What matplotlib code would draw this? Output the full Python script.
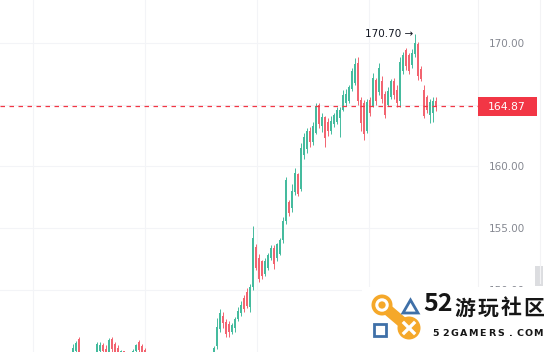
import numpy as np
import matplotlib.pyplot as plt
from matplotlib.patches import Rectangle, Circle, Polygon
from matplotlib.transforms import blended_transform_factory

## candle data (one candle per bar)
opens = [144.0, 145.0, 146.0, 144.8, 144.0, 144.4, 143.8, 144.3, 144.8, 145.0,
         145.5, 145.2, 144.9, 146.0, 145.6, 145.3, 144.6, 145.0, 144.5, 144.2,
         144.6, 145.0, 145.8, 145.4, 145.1, 144.6, 144.0, 143.5, 143.8, 143.2,
         142.8, 143.3, 142.9, 142.4, 142.7, 142.2, 142.6, 143.0, 142.7, 143.2,
         143.6, 143.3, 143.8, 144.2, 143.9, 144.4, 144.7, 144.5, 145.4, 146.8,
         147.9, 147.4, 147.2, 146.6, 146.9, 147.6, 148.1, 149.3, 149.8, 148.6,
         150.2, 153.5, 152.6, 152.3, 151.3, 151.8, 152.6, 153.4, 152.6, 152.9,
         154.0, 155.6, 157.1, 156.6, 157.9, 159.4, 158.2, 160.9, 161.4, 162.9,
         162.0, 162.7, 165.0, 163.3, 164.0, 163.6, 162.9, 163.4, 163.6, 163.9,
         164.6, 165.1, 165.3, 166.3, 166.8, 168.4, 165.4, 165.1, 162.9, 165.4,
         164.8, 167.0, 166.0, 166.9, 165.9, 165.0, 165.6, 166.9, 166.2, 165.3,
         167.7, 169.4, 169.0, 168.2, 169.1, 169.9, 167.9, 166.2, 165.6, 164.2,
         164.3, 165.3]
highs = [145.6, 145.85, 146.2, 144.9, 144.8, 144.6, 144.7, 144.9, 145.8, 145.75,
         145.7, 145.5, 146.1, 146.2, 145.8, 145.5, 145.1, 145.0, 144.7, 144.8,
         145.2, 145.6, 145.9, 145.6, 145.3, 144.7, 144.2, 144.1, 143.9, 143.4,
         143.5, 143.6, 143.1, 143.0, 142.9, 142.8, 143.2, 143.3, 143.4, 143.8,
         143.9, 144.0, 144.4, 144.5, 144.6, 144.9, 144.9, 145.4, 147.7, 148.4,
         148.2, 147.6, 147.5, 147.3, 147.8, 148.6, 149.1, 149.6, 150.1, 150.5,
         155.2, 153.7, 152.9, 152.4, 152.6, 153.0, 153.6, 153.6, 153.8, 154.2,
         155.9, 159.1, 157.3, 158.6, 159.9, 159.5, 161.9, 162.7, 163.1, 163.2,
         163.6, 165.1, 165.1, 164.3, 164.1, 163.9, 164.1, 164.3, 164.8, 164.8,
         166.2, 166.3, 166.6, 168.0, 168.8, 168.9, 165.6, 165.4, 165.5, 165.6,
         167.6, 167.2, 168.4, 167.3, 166.1, 166.4, 167.1, 167.2, 166.6, 168.9,
         169.3, 169.6, 169.2, 169.5, 170.7, 170.1, 168.1, 166.6, 165.8, 165.5,
         165.6, 165.6]
lows = [143.5, 144.3, 144.2, 143.6, 143.7, 143.4, 143.5, 144.0, 144.5, 144.6,
        144.7, 144.5, 144.7, 144.9, 144.6, 144.4, 144.2, 144.1, 143.9, 143.9,
        144.3, 144.7, 144.8, 144.6, 144.3, 143.7, 143.2, 143.1, 142.9, 142.5,
        142.6, 142.6, 142.1, 142.2, 141.9, 141.9, 142.3, 142.4, 142.5, 142.9,
        143.0, 143.1, 143.5, 143.6, 143.7, 144.1, 144.2, 144.3, 145.2, 146.6,
        146.9, 146.2, 146.2, 146.4, 146.6, 147.5, 147.9, 148.2, 148.5, 148.2,
        150.0, 151.6, 150.6, 150.9, 151.1, 151.6, 152.4, 151.7, 152.3, 152.8,
        153.8, 155.3, 156.0, 156.3, 157.7, 157.6, 158.0, 160.6, 161.1, 161.6,
        161.7, 162.6, 163.1, 162.8, 161.6, 162.5, 162.6, 163.2, 163.4, 162.4,
        164.5, 164.9, 165.1, 166.1, 166.6, 165.0, 162.9, 162.1, 162.7, 164.1,
        164.8, 165.0, 165.8, 165.1, 163.9, 164.9, 165.5, 165.5, 164.8, 164.8,
        167.5, 167.8, 167.5, 168.0, 168.9, 167.0, 166.9, 163.9, 164.3, 163.5,
        163.6, 164.5]
closes = [145.3, 145.7, 144.8, 144.0, 144.4, 143.8, 144.3, 144.8, 145.6, 145.5,
          145.0, 144.8, 145.9, 145.2, 144.9, 144.7, 145.0, 144.5, 144.2, 144.6,
          145.0, 145.5, 145.1, 144.9, 144.6, 144.0, 143.5, 143.8, 143.2, 142.8,
          143.3, 142.9, 142.4, 142.7, 142.2, 142.6, 143.0, 142.7, 143.2, 143.6,
          143.3, 143.8, 144.2, 143.9, 144.4, 144.7, 144.5, 145.3, 147.0, 148.1,
          147.3, 146.4, 146.6, 147.1, 147.6, 148.3, 148.8, 148.4, 148.7, 150.2,
          154.2, 151.8, 150.9, 151.1, 152.3, 152.8, 153.4, 152.1, 153.7, 154.0,
          155.6, 158.9, 156.2, 158.0, 159.5, 157.8, 161.5, 162.4, 162.9, 162.0,
          163.3, 164.9, 163.4, 164.0, 162.3, 162.9, 163.7, 164.2, 164.6, 164.6,
          165.8, 165.9, 166.4, 167.7, 168.3, 165.3, 163.5, 162.6, 165.2, 164.3,
          167.2, 165.3, 168.0, 165.5, 164.2, 166.1, 166.9, 165.8, 165.1, 168.5,
          169.0, 168.1, 167.7, 169.2, 170.0, 167.3, 167.1, 164.1, 164.6, 165.2,
          165.3, 164.87]

lastPrice = closes[-1]
priceTicks = [150, 155, 160, 165, 170]

upColor = '#45bb9e'
downColor = '#f26470'

fig = plt.figure(figsize=(5.48, 3.52), dpi=100)
ax = fig.add_axes([0, 0, 478 / 548, 1])

## drawing the candles
x = np.arange(len(closes))
o = np.array(opens)
c = np.array(closes)
colors = [upColor if cc >= oo else downColor for oo, cc in zip(o, c)]
ax.vlines(x, lows, highs, color=colors, linewidth=0.7, zorder=3)
ax.bar(x, np.maximum(np.abs(c - o), 0.05), bottom=np.minimum(o, c), width=0.6,
       color=colors, linewidth=0, zorder=3)

## axes limits and grid
ax.set_xlim(-24.33, 135)
ax.set_ylim(144.95, 173.49)
ax.set_xticks([-13.33, 24, 61.33, 98.67])
ax.set_yticks(priceTicks)
ax.set_yticklabels([f"{p:.2f}" for p in priceTicks])
ax.grid(True, color='#f3f4f7', linewidth=0.8, zorder=0)
ax.yaxis.tick_right()
ax.tick_params(axis='y', length=0, pad=8, labelsize=7.5, labelcolor='#858891')
ax.tick_params(axis='x', length=0, labelbottom=False)
for side in ['top', 'left', 'bottom']:
    ax.spines[side].set_visible(False)
ax.spines['right'].set_color('#f2f2f4')
ax.spines['right'].set_linewidth(0.8)

## last price line and label
ax.axhline(lastPrice, color='#f23645', linewidth=0.9, dashes=(3.6, 3.6), zorder=4)
tr = blended_transform_factory(fig.transFigure, ax.transData)
ax.add_patch(Rectangle((478 / 548, lastPrice - 0.8), 59 / 548, 1.55, transform=tr,
                       facecolor='#f23645', edgecolor='none', clip_on=False, zorder=6))
ax.text(507 / 548, lastPrice - 0.02, f"{lastPrice:.2f}", transform=tr, color='white',
        fontsize=7.8, ha='center', va='center', zorder=7, clip_on=False)

## high marker
iMax = int(np.argmax(highs))
ax.text(iMax - 0.6, max(highs) + 0.03, f"{max(highs):.2f} \u2192", color='#131722',
        fontsize=7.5, ha='right', va='center', zorder=5)

## overlay in pixel space for the side bits and the watermark
ov = fig.add_axes([0, 0, 1, 1])
ov.set_xlim(0, 548)
ov.set_ylim(352, 0)
ov.axis('off')
ov.patch.set_alpha(0)
ov.plot([540, 540], [0, 283], color='#f3f3f5', linewidth=0.8)
ov.add_patch(Rectangle((535, 266), 8, 20, facecolor='#dcdde0', edgecolor='none'))

## watermark
ov.add_patch(Rectangle((362, 287), 186, 65, facecolor='white', edgecolor='none', zorder=1))
orange = '#f5a82a'
blue = '#3f70a8'
ov.plot([382, 409], [305, 328], color=orange, linewidth=8, solid_capstyle='round', zorder=2)
ov.add_patch(Circle((382, 305), 10.5, facecolor=orange, edgecolor='none', zorder=3))
ov.add_patch(Circle((409, 328), 11.5, facecolor=orange, edgecolor='none', zorder=3))
ov.add_patch(Circle((382, 305), 5.2, facecolor='none', edgecolor='white', linewidth=2.2, zorder=4))
ov.plot([404, 414], [323, 333], color='white', linewidth=2.4, zorder=4)
ov.plot([404, 414], [333, 323], color='white', linewidth=2.4, zorder=4)
ov.add_patch(Polygon([(403, 313), (418, 313), (410.5, 300)], closed=True,
                     facecolor='none', edgecolor=blue, linewidth=2, zorder=4))
ov.add_patch(Rectangle((373.5, 323.5), 12, 12, facecolor='none', edgecolor=blue,
                       linewidth=2, zorder=4))
ov.text(438, 304, "52", fontsize=18, fontweight='bold', color='#161616',
        ha='center', va='center', family=['Noto Sans CJK SC', 'DejaVu Sans'], zorder=5)
for ch, cx in zip("游玩社区", [465, 488, 511, 534]):
    ov.text(cx, 308, ch, fontsize=15, fontweight='bold', color='#161616',
            ha='center', va='center', family=['Noto Sans CJK SC', 'DejaVu Sans'], zorder=5)
for k, ch in enumerate("52GAMERS.COM"):
    ov.text(436 + 9.3 * k, 333.5, ch, fontsize=6.8, fontweight='bold', color='#161616',
            ha='center', va='center', family='DejaVu Sans', zorder=5)

fig.savefig('out.png', dpi=100)
